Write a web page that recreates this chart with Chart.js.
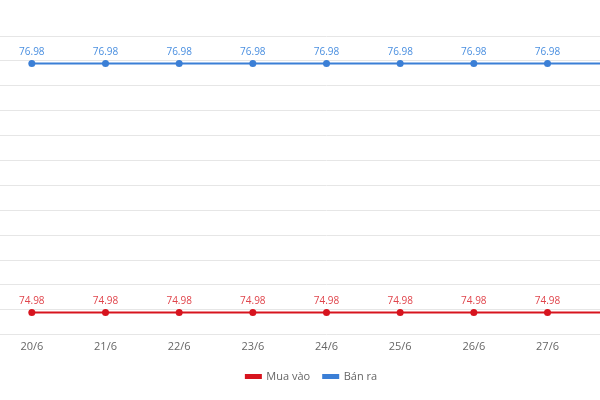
<!DOCTYPE html>
<html>
<head>
<meta charset="utf-8">
<script src="https://cdn.jsdelivr.net/npm/chart.js@4.4.1/dist/chart.umd.min.js"></script>
<style>
  html, body { margin: 0; padding: 0; background: #fff; overflow: hidden; }
  #wrap { position: relative; width: 600px; height: 400px; overflow: hidden; }
  #chart { position: absolute; left: -35px; top: 0; }
</style>
</head>
<body>
<div id="wrap"><canvas id="chart" width="704" height="400"></canvas></div>
<script>
// du lieu bieu do
const days = ['20/6', '21/6', '22/6', '23/6', '24/6', '25/6', '26/6', '27/6', '28/6'];
const buyValues = [74.98, 74.98, 74.98, 74.98, 74.98, 74.98, 74.98, 74.98, 74.98];
const sellValues = [76.98, 76.98, 76.98, 76.98, 76.98, 76.98, 76.98, 76.98, 76.98];
const yMin = 74.8;
const yMax = 77.2;
const yStep = 0.2;

const RED = '#d7141e';
const BLUE = '#3b7fd6';

// ve so tren moi diem
const valueLabels = {
    id: 'valueLabels',
    afterDatasetsDraw(chart) {
        const ctx = chart.ctx;
        ctx.save();
        ctx.font = '10px "Open Sans"';
        ctx.textAlign = 'center';
        ctx.textBaseline = 'bottom';
        chart.data.datasets.forEach((ds, i) => {
            const meta = chart.getDatasetMeta(i);
            ctx.fillStyle = ds.labelColor;
            meta.data.forEach((pt, j) => {
                ctx.fillText(ds.data[j].toFixed(2), pt.x, pt.y - 6);
            });
        });
        ctx.restore();
    }
};

const ctx = document.getElementById('chart').getContext('2d');
new Chart(ctx, {
    type: 'line',
    data: {
        labels: days,
        datasets: [{
            label: 'Mua vào',
            data: buyValues,
            borderColor: RED,
            backgroundColor: RED,
            labelColor: '#e0444b',
            borderWidth: 2,
            pointRadius: 3.5,
            pointBackgroundColor: RED,
            pointBorderWidth: 0
        }, {
            label: 'Bán ra',
            data: sellValues,
            borderColor: BLUE,
            backgroundColor: BLUE,
            labelColor: '#4a8fe0',
            borderWidth: 2,
            pointRadius: 3.5,
            pointBackgroundColor: BLUE,
            pointBorderWidth: 0
        }]
    },
    options: {
        responsive: false,
        animation: false,
        layout: { padding: { top: 36, right: 11, bottom: 8 } },
        plugins: {
            legend: {
                position: 'bottom',
                labels: {
                    boxWidth: 15,
                    boxHeight: 3,
                    color: '#666',
                    font: { family: 'Open Sans', size: 11 },
                    padding: 13
                }
            },
            tooltip: { enabled: false }
        },
        scales: {
            x: {
                offset: true,
                grid: { display: false, drawTicks: false },
                border: { display: false },
                ticks: { color: '#666', font: { family: 'Open Sans', size: 11 }, padding: 5 }
            },
            y: {
                min: yMin,
                max: yMax,
                afterFit: (scale) => { scale.width = 30; },
                grid: { color: '#e6e6e6', drawTicks: false },
                border: { display: false },
                ticks: { stepSize: yStep, font: { size: 10 } }
            }
        }
    },
    plugins: [valueLabels]
});
</script>
</body>
</html>
